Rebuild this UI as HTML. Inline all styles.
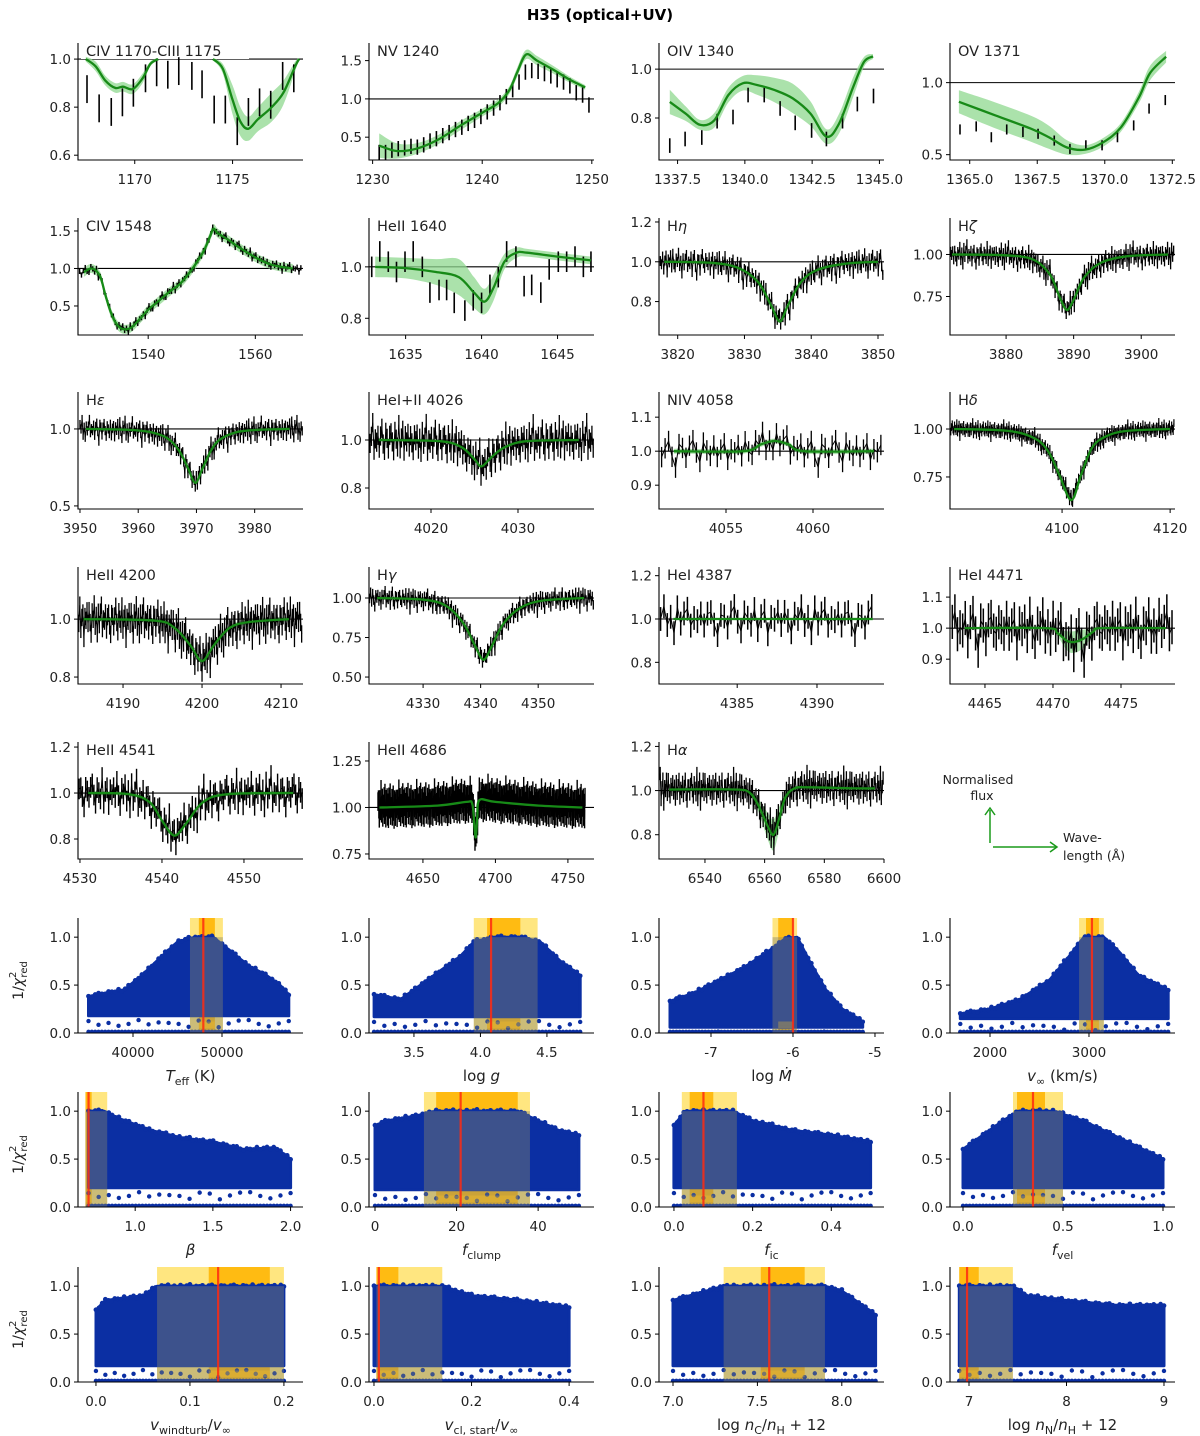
<!DOCTYPE html>
<html><head><meta charset="utf-8">
<style>
html,body{margin:0;padding:0;background:#fff;}
svg{display:block;font-family:"DejaVu Sans","Liberation Sans",sans-serif;}
</style></head>
<body>
<svg id="fig" width="1200" height="1436" viewBox="0 0 1200 1436" xmlns="http://www.w3.org/2000/svg">
<rect width="1200" height="1436" fill="#fff"/>
<text x="600" y="20" text-anchor="middle" font-size="15" font-weight="bold">H35 (optical+UV)</text>
<g id="legend">
<text x="978" y="784" text-anchor="middle" font-size="12.5" fill="#222">Normalised</text>
<text x="982" y="800" text-anchor="middle" font-size="12.5" fill="#222">flux</text>
<line x1="990" y1="843" x2="990" y2="810" stroke="#1a9a1a" stroke-width="1.5"/>
<polyline points="985,815 990,808 995,815" fill="none" stroke="#1a9a1a" stroke-width="1.5"/>
<line x1="993" y1="847" x2="1056" y2="847" stroke="#1a9a1a" stroke-width="1.5"/>
<polyline points="1050,842 1057,847 1050,852" fill="none" stroke="#1a9a1a" stroke-width="1.5"/>
<text x="1063" y="842" font-size="12.5" fill="#222">Wave-</text>
<text x="1063" y="860" font-size="12.5" fill="#222">length (Å)</text>
</g>
</svg>
<script>
// ===== shared noise pattern (hand-read residual shapes) =====
const resid=[0.3,-0.8,0.5,1.1,-0.2,-1.0,0.7,0.1,-0.5,1.3,-0.9,0.2,0.9,-1.4,0.4,-0.1,0.8,-0.6,1.0,-0.3,-1.1,0.6,0.0,1.2,-0.7,0.3,-1.2,0.9,-0.4,0.5,1.5,-0.8,0.1,-0.2,0.7,-1.0,0.4,1.1,-0.5,-1.6,0.6];

// ===== spectral panels: model points [x,y], band half-width =====
const civ1170A=[[1167.5,1.0],[1168.0,0.97],[1168.5,0.91],[1169.0,0.88],[1169.4,0.885],[1169.9,0.875],[1170.4,0.92],[1170.8,0.98],[1171.2,1.0]];
const civ1170Aband=[0.01,0.02,0.02,0.02,0.02,0.02,0.02,0.01,0.005];
const civ1170B=[[1174.0,1.0],[1174.5,0.96],[1175.0,0.83],[1175.4,0.74],[1175.8,0.71],[1176.3,0.75],[1177.0,0.80],[1177.6,0.86],[1178.2,0.97],[1178.4,1.0]];
const civ1170Bband=[0.005,0.02,0.06,0.06,0.05,0.05,0.06,0.05,0.02,0.005];
const civ1170Obs=[[1167.56,0.875],[1168.18,0.795],[1168.8,0.78],[1169.37,0.82],[1169.93,0.86],[1170.55,0.92],[1171.12,0.945],[1171.69,0.935],[1172.25,0.95],[1172.92,0.93],[1173.44,0.895],[1174.06,0.79],[1174.63,0.79],[1175.24,0.70],[1175.81,0.78],[1176.38,0.82],[1176.95,0.81],[1177.56,0.93],[1178.13,0.92]];

const nvModel=[[1230.6,0.39],[1232.2,0.32],[1234,0.35],[1236,0.47],[1238,0.65],[1240,0.82],[1241.5,0.95],[1242.5,1.12],[1243.2,1.35],[1244,1.58],[1245,1.50],[1246.5,1.38],[1248,1.25],[1249.4,1.15]];
const nvBand=[0.16,0.1,0.07,0.06,0.06,0.05,0.05,0.05,0.06,0.06,0.06,0.05,0.04,0.03];
const nvObsY=[0.3,0.3,0.33,0.35,0.36,0.38,0.37,0.4,0.45,0.48,0.52,0.56,0.6,0.63,0.68,0.72,0.77,0.83,0.88,0.95,1.03,1.12,1.22,1.35,1.37,1.36,1.33,1.3,1.25,1.22,1.17,1.08,1.05,0.92];

const oivModel=[[1337.21,0.866],[1337.8,0.818],[1338.33,0.772],[1338.86,0.79],[1339.39,0.894],[1339.92,0.942],[1340.45,0.935],[1341.11,0.914],[1341.78,0.88],[1342.44,0.818],[1343.03,0.724],[1343.5,0.777],[1344.03,0.928],[1344.43,1.03],[1344.76,1.052]];
const oivBand=[0.05,0.03,0.02,0.03,0.03,0.03,0.04,0.05,0.06,0.05,0.03,0.04,0.04,0.02,0.01];
const oivObs=[[1337.21,0.687],[1337.78,0.714],[1338.4,0.72],[1338.97,0.787],[1339.56,0.804],[1340.12,0.894],[1340.72,0.894],[1341.31,0.839],[1341.87,0.78],[1342.48,0.749],[1343.03,0.714],[1343.63,0.787],[1344.18,0.857],[1344.78,0.89]];

const ovModel=[[1364.6,0.867],[1365.94,0.773],[1367.27,0.68],[1367.94,0.62],[1368.6,0.55],[1369.27,0.535],[1369.94,0.586],[1370.6,0.69],[1371.27,0.9],[1371.67,1.065],[1372.27,1.18]];
const ovBand=[0.08,0.09,0.09,0.08,0.05,0.03,0.03,0.03,0.04,0.05,0.04];
const ovObs=[[1364.64,0.675],[1365.24,0.696],[1365.8,0.621],[1366.37,0.675],[1366.97,0.657],[1367.53,0.645],[1368.13,0.598],[1368.71,0.54],[1369.3,0.565],[1369.9,0.565],[1370.47,0.621],[1371.07,0.703],[1371.64,0.82],[1372.24,0.879]];

const civ1548Model=[[1528,0.95],[1529.5,1.0],[1531,0.9],[1532,0.65],[1533,0.42],[1534,0.27],[1535,0.2],[1536,0.19],[1537,0.22],[1538.5,0.33],[1540,0.45],[1542,0.57],[1544,0.69],[1546,0.8],[1548,0.97],[1549.5,1.13],[1550.5,1.25],[1551.5,1.42],[1552.2,1.53],[1553,1.47],[1555,1.38],[1557,1.28],[1559,1.19],[1561,1.11],[1563,1.05],[1565,1.02],[1567,1.0]];

const heii1640Model=[[1633,1.0],[1635,0.995],[1637,0.98],[1638.5,0.96],[1639.5,0.90],[1640.2,0.865],[1640.8,0.92],[1641.5,1.02],[1642.3,1.055],[1643,1.055],[1645,1.04],[1647.2,1.025]];
const heii1640Band=[0.04,0.04,0.05,0.07,0.06,0.05,0.05,0.03,0.02,0.015,0.015,0.015];
const heii1640Obs=[[1632.77,1.0],[1633.3,1.06],[1633.86,1.02],[1634.4,0.98],[1634.96,1.02],[1635.5,1.06],[1636.1,1.0],[1636.6,0.9],[1637.2,0.91],[1637.7,0.91],[1638.2,0.86],[1638.9,0.83],[1639.45,0.87],[1640.0,0.86],[1640.55,0.93],[1641.1,0.96],[1641.65,1.06],[1642.26,1.04],[1642.8,0.925],[1643.3,0.93],[1643.9,0.9],[1644.45,0.99],[1645.05,1.02],[1645.6,1.02],[1646.15,1.04],[1646.7,1.0],[1647.2,1.02]];

const hetaModel=[[3818,1.0],[3825,0.995],[3829,0.97],[3832,0.9],[3834,0.78],[3835.3,0.70],[3836.5,0.78],[3838.5,0.9],[3841,0.96],[3845,0.99],[3850,1.0]];
const hzetaModel=[[3872,1.0],[3880,0.995],[3884,0.97],[3886.5,0.88],[3888,0.74],[3889,0.67],[3890,0.73],[3891.5,0.86],[3894,0.95],[3898,0.99],[3904,1.0]];
const hepsModel=[[3951,1.0],[3958,0.995],[3962,0.98],[3965,0.94],[3967,0.86],[3968.5,0.75],[3969.8,0.65],[3971,0.74],[3972.5,0.86],[3974,0.93],[3977,0.98],[3981,0.995],[3986,1.0]];
const he4026Model=[[4014,1.0],[4021,0.995],[4023.5,0.97],[4025,0.92],[4025.8,0.89],[4027,0.93],[4028.5,0.97],[4031,0.995],[4037,1.0]];
const niv4058Model=[[4052,1.0],[4056,1.0],[4057,1.02],[4057.8,1.03],[4058.6,1.02],[4059.5,1.0],[4063.5,1.0]];
const hdeltaModel=[[4080,1.0],[4090,0.99],[4095,0.95],[4097.5,0.88],[4099.5,0.76],[4101.7,0.63],[4103.5,0.76],[4105.5,0.9],[4108,0.96],[4112,0.99],[4120,1.0]];
const heii4200Model=[[4185,1.0],[4194,0.995],[4196.5,0.97],[4198.5,0.91],[4200,0.855],[4201.5,0.91],[4203.5,0.97],[4206,0.99],[4211,1.0]];
const hgammaModel=[[4322,1.0],[4330,0.99],[4334,0.95],[4337,0.84],[4339,0.7],[4340.5,0.61],[4342,0.7],[4344,0.84],[4347,0.94],[4351,0.985],[4358,1.0]];
const hei4387Model=[[4381,1.0],[4393.5,1.0]];
const hei4471Model=[[4463.5,1.0],[4469.5,1.0],[4470.3,0.985],[4471,0.96],[4471.5,0.955],[4472.2,0.965],[4473,0.99],[4473.6,1.0],[4478.3,1.0]];
const hei4471Band=[0.003,0.003,0.01,0.03,0.035,0.03,0.01,0.003,0.003];
const heii4541Model=[[4531,1.0],[4536,0.995],[4538.5,0.96],[4540,0.88],[4541.5,0.815],[4543,0.87],[4545,0.96],[4548,0.995],[4556,1.0]];
const heii4686Model=[[4620,1.0],[4660,1.01],[4680,1.03],[4684,1.02],[4685.5,0.90],[4686.5,0.84],[4687.5,0.95],[4689,1.04],[4700,1.03],[4730,1.01],[4760,1.0]];
const heii4686Band=[0.005,0.01,0.02,0.02,0.02,0.02,0.02,0.02,0.015,0.01,0.005];
const halphaModel=[[6528,1.005],[6550,1.005],[6555,0.99],[6558,0.93],[6561,0.84],[6563,0.80],[6565,0.88],[6567,0.97],[6570,1.01],[6575,1.015],[6590,1.01],[6597,1.01]];
const halphaBand=[0.003,0.003,0.01,0.03,0.06,0.07,0.05,0.02,0.01,0.005,0.005,0.005];

// ===== chi^2 panels: parameter grid, upper envelope =====
const teffX=[35000,37000,39000,41000,43000,45000,47000,49000,51000,53000,55000,56500,57500];
const teffTop=[0.38,0.42,0.45,0.6,0.78,0.95,1.0,1.0,0.85,0.7,0.6,0.5,0.4];
const loggX=[3.2,3.4,3.55,3.7,3.85,3.95,4.1,4.3,4.45,4.6,4.75];
const loggTop=[0.4,0.35,0.5,0.65,0.8,0.95,1.0,1.0,0.95,0.75,0.6];
const mdotX=[-7.5,-7.2,-6.9,-6.6,-6.3,-6.1,-5.95,-5.8,-5.6,-5.4,-5.15];
const mdotTop=[0.33,0.42,0.55,0.68,0.85,0.98,1.0,0.75,0.45,0.25,0.12];
const vinfX=[1700,2000,2300,2600,2800,2950,3150,3300,3500,3800];
const vinfTop=[0.2,0.25,0.35,0.55,0.8,1.0,1.0,0.85,0.6,0.45];
const betaX=[0.7,0.8,0.9,1.1,1.3,1.5,1.7,1.9,2.0];
const betaTop=[1.0,1.0,0.92,0.8,0.72,0.68,0.6,0.62,0.5];
const fclX=[0,3,10,15,35,40,45,50];
const fclTop=[0.85,0.9,0.95,1.0,1.0,0.9,0.8,0.75];
const ficX=[0,0.03,0.15,0.2,0.3,0.4,0.5];
const ficTop=[0.85,1.0,1.0,0.9,0.8,0.75,0.68];
const fvelX=[0,0.1,0.2,0.28,0.45,0.6,0.8,0.9,1.0];
const fvelTop=[0.6,0.75,0.9,1.0,1.0,0.9,0.7,0.6,0.5];
const vturbX=[0,0.01,0.05,0.065,0.2];
const vturbTop=[0.75,0.85,0.9,1.0,1.0];
const vclX=[0,0.14,0.2,0.3,0.4];
const vclTop=[1.0,1.0,0.9,0.85,0.78];
const ncX=[7.0,7.2,7.3,7.9,8.0,8.2];
const ncTop=[0.85,0.95,1.0,1.0,0.95,0.7];
const nnX=[6.9,7.45,7.6,8.0,8.5,9.0];
const nnTop=[1.0,1.0,0.9,0.85,0.8,0.8];
// best-fit bands: [light lo, light hi, orange lo, orange hi, best]
const teffFit=[46400,50100,47400,49200,47900];
const loggFit=[3.95,4.43,4.05,4.3,4.08];
const mdotFit=[-6.25,-5.95,-6.18,-6.0,-6.0];
const vinfFit=[2900,3150,2970,3100,3030];
const betaFit=[0.68,0.82,0.68,0.72,0.7];
const fclFit=[12,38,15,35,21];
const ficFit=[0.02,0.16,0.04,0.10,0.075];
const fvelFit=[0.25,0.5,0.27,0.41,0.35];
const vturbFit=[0.065,0.2,0.12,0.185,0.13];
const vclFit=[0.005,0.14,0.005,0.05,0.01];
const ncFit=[7.3,7.9,7.52,7.78,7.57];
const nnFit=[6.9,7.45,6.9,7.1,6.98];

// ===== tick labels =====
const ticksCiv1170=[1170,1175], yticksCiv1170=[0.6,0.8,1.0];

const NS='http://www.w3.org/2000/svg';
const svg=document.getElementById('fig');
function el(tag,attrs,parent){const e=document.createElementNS(NS,tag);for(const k in attrs)e.setAttribute(k,attrs[k]);(parent||svg).appendChild(e);return e;}
function interp(pts,x){if(x<=pts[0][0])return pts[0][1];for(let i=1;i<pts.length;i++){if(x<=pts[i][0]){const t=(x-pts[i-1][0])/(pts[i][0]-pts[i-1][0]);return pts[i-1][1]+t*(pts[i][1]-pts[i-1][1]);}}return pts[pts.length-1][1];}
function smooth(p){let d='M'+p[0][0].toFixed(1)+','+p[0][1].toFixed(1);for(let i=0;i<p.length-1;i++){const p0=p[i-1]||p[i],p1=p[i],p2=p[i+1],p3=p[i+2]||p2;const c1=[p1[0]+(p2[0]-p0[0])/6,p1[1]+(p2[1]-p0[1])/6],c2=[p2[0]-(p3[0]-p1[0])/6,p2[1]-(p3[1]-p1[1])/6];d+='C'+c1.map(v=>v.toFixed(1))+' '+c2.map(v=>v.toFixed(1))+' '+p2[0].toFixed(1)+','+p2[1].toFixed(1);}return d;}
function fmt(v,dec){return dec==null?String(v):v.toFixed(dec);}

function axes(g,L,T,W,H,xl,yl,xt,yt,xdec,ydec){
  const sx=x=>L+(x-xl[0])/(xl[1]-xl[0])*W, sy=y=>T+H-(y-yl[0])/(yl[1]-yl[0])*H;
  const cid='c'+Math.round(L)+'_'+Math.round(T);
  const cp=el('clipPath',{id:cid},g);el('rect',{x:L,y:T-2,width:W,height:H+2},cp);
  const inner=el('g',{'clip-path':'url(#'+cid+')'},g);
  return {sx,sy,inner,finish(){
    const sp=el('path',{d:`M${L},${T}V${T+H}H${L+W}`,fill:'none',stroke:'#000','stroke-width':1.1},g);
    
    
    xt.forEach(v=>{const x=sx(v);el('line',{x1:x,y1:T+H,x2:x,y2:T+H+4,stroke:'#000'},g);
      const t=el('text',{x:x,y:T+H+24,'text-anchor':'middle','font-size':13.5,fill:'#222'},g);t.textContent=fmt(v,xdec);
      
      });
    yt.forEach(v=>{const y=sy(v);el('line',{x1:L-4,y1:y,x2:L,y2:y,stroke:'#000'},g);
      const t=el('text',{x:L-7,y:y+5,'text-anchor':'end','font-size':13.5,fill:'#222'},g);t.textContent=fmt(v,ydec);
      
      });
  }};
}

const COLS=[78,369,659,950], W=225;
const SROWS=[43,218,392,567,742], SH=117;
let off=0;
function spec(p){
  const L=COLS[p.c],T=SROWS[p.r];
  const g=el('g',{});
  
  
  const a=axes(g,L,T,W,SH,p.xl,p.yl,p.xt,p.yt,p.xdec,p.ydec);
  const sx=a.sx,sy=a.sy;
  el('line',{x1:L,x2:L+W,y1:sy(1),y2:sy(1),stroke:'#000','stroke-width':1.1},a.inner);
  if(p.bg){el('rect',{x:L+3,y:T,width:p.bg,height:16,fill:'#fff'},g);}
  (p.models).forEach(m=>{
    const up=m.pts.map((q,i)=>[sx(q[0]),sy(q[1]+(m.band?m.band[i]:m.bw))]);
    const lo=m.pts.map((q,i)=>[sx(q[0]),sy(q[1]-(m.band?m.band[i]:m.bw))]).reverse();
    const bd=smooth(up)+'L'+lo[0][0].toFixed(1)+','+lo[0][1].toFixed(1)+smooth(lo).slice(1).replace(/^[^C]*/,'')+'Z';
    const b=el('path',{d:bd,fill:'#8fd88f','fill-opacity':0.75,stroke:'none'},g);
    
    
  });
  const og=el('g',{stroke:'#000','stroke-width':p.sw||1.6},g);
  
  
  if(p.obs){p.obs.forEach(o=>{el('line',{x1:sx(o[0]),x2:sx(o[0]),y1:sy(o[1]-p.err),y2:sy(o[1]+p.err)},og);});}
  else{
    const base=p.models[0].pts;let pts=[];let i=0;
    for(let x=p.d[0];x<=p.d[1];x+=p.d[2]){const y=interp(base,x)+p.noise*resid[(i+off)%resid.length]*(1+0.3*resid[(i*3+off)%resid.length]);
      pts.push([sx(x),sy(y)]);el('line',{x1:sx(x),x2:sx(x),y1:sy(y-p.err),y2:sy(y+p.err)},og);i++;}
    off+=7;
    el('polyline',{points:pts.map(q=>q[0].toFixed(1)+','+q[1].toFixed(1)).join(' '),fill:'none','stroke-width':1},og);
  }
  p.models.forEach(m=>{const ln=el('path',{d:smooth(m.pts.map(q=>[sx(q[0]),sy(q[1])])),fill:'none',stroke:'#178a17','stroke-width':2.3},g);
    
    });
  const lab=el('text',{x:L+8,y:T+13,'font-size':14.5,fill:'#222'},g);
  lab.innerHTML=p.label;
  
  
  a.finish();
}

const nvObs=nvObsY.map((y,i)=>[1230.6+i*0.58,y]);
const P=[
 {id:'civ1170',r:0,c:0,xl:[1167.1,1178.6],yl:[0.58,1.067],xt:ticksCiv1170,yt:yticksCiv1170,ydec:1,label:'CIV 1170-CIII 1175',bg:168,
  models:[{pts:civ1170A,band:civ1170Aband},{pts:civ1170B,band:civ1170Bband}],obs:civ1170Obs,err:0.058},
 {id:'nv1240',r:0,c:1,xl:[1229.67,1250.2],yl:[0.202,1.73],xt:[1230,1240,1250],yt:[0.5,1.0,1.5],ydec:1,label:'NV 1240',
  models:[{pts:nvModel,band:nvBand}],obs:nvObs,err:0.1},
 {id:'oiv1340',r:0,c:2,xl:[1336.81,1345.17],yl:[0.628,1.107],xt:[1337.5,1340,1342.5,1345],xdec:1,yt:[0.8,1.0],ydec:1,label:'OIV 1340',
  models:[{pts:oivModel,band:oivBand}],obs:oivObs,err:0.03},
 {id:'ov1371',r:0,c:3,xl:[1364.27,1372.6],yl:[0.463,1.275],xt:[1365,1367.5,1370,1372.5],xdec:1,yt:[0.5,1.0],ydec:1,label:'OV 1371',
  models:[{pts:ovModel,band:ovBand}],obs:ovObs,err:0.035},
 {id:'civ1548',r:1,c:0,xl:[1526.9,1568.9],yl:[0.113,1.673],xt:[1540,1560],yt:[0.5,1.0,1.5],ydec:1,label:'CIV 1548',
  models:[{pts:civ1548Model,bw:0.06}],d:[1527.2,1568.6,0.35],noise:0.035,err:0.035,sw:1.4},
 {id:'heii1640',r:1,c:1,xl:[1632.59,1647.4],yl:[0.735,1.19],xt:[1635,1640,1645],yt:[0.8,1.0],ydec:1,label:'HeII 1640',
  models:[{pts:heii1640Model,band:heii1640Band}],obs:heii1640Obs,err:0.04},
 {id:'heta',r:1,c:2,xl:[3817.2,3850.9],yl:[0.632,1.22],xt:[3820,3830,3840,3850],yt:[0.8,1.0,1.2],ydec:1,label:'H<tspan font-style="italic">η</tspan>',
  models:[{pts:hetaModel,bw:0.008}],d:[3817.4,3850.8,0.17],noise:0.035,err:0.025,sw:1.3},
 {id:'hzeta',r:1,c:3,xl:[3871.7,3905],yl:[0.521,1.217],xt:[3880,3890,3900],yt:[0.75,1.0],ydec:2,label:'H<tspan font-style="italic">ζ</tspan>',
  models:[{pts:hzetaModel,bw:0.008}],d:[3871.8,3904.9,0.15],noise:0.035,err:0.03,sw:1.3},
 {id:'heps',r:2,c:0,xl:[3949.66,3988.3],yl:[0.48,1.24],xt:[3950,3960,3970,3980],yt:[0.5,1.0],ydec:1,label:'H<tspan font-style="italic">ε</tspan>',
  models:[{pts:hepsModel,bw:0.01}],d:[3950,3988.2,0.18],noise:0.04,err:0.03,sw:1.3},
 {id:'he4026',r:2,c:1,xl:[4012.87,4038.74],yl:[0.7125,1.2],xt:[4020,4030],yt:[0.8,1.0],ydec:1,label:'HeI+II 4026',
  models:[{pts:he4026Model,bw:0.006}],d:[4013,4038.7,0.15],noise:0.04,err:0.04,sw:1.3},
 {id:'niv4058',r:2,c:2,xl:[4051.15,4064.08],yl:[0.83,1.174],xt:[4055,4060],yt:[0.9,1.0,1.1],ydec:1,label:'NIV 4058',
  models:[{pts:niv4058Model,bw:0.007}],d:[4051.3,4064,0.2],noise:0.025,err:0.03,sw:1.3},
 {id:'hdelta',r:2,c:3,xl:[4079.26,4120.9],yl:[0.583,1.193],xt:[4100,4120],yt:[0.75,1.0],ydec:2,label:'H<tspan font-style="italic">δ</tspan>',
  models:[{pts:hdeltaModel,bw:0.01}],d:[4079.4,4120.8,0.14],noise:0.022,err:0.02,sw:1.2},
 {id:'heii4200',r:3,c:0,xl:[4184.3,4212.78],yl:[0.776,1.18],xt:[4190,4200,4210],yt:[0.8,1.0],ydec:1,label:'HeII 4200',
  models:[{pts:heii4200Model,bw:0.008}],d:[4184.4,4212.7,0.13],noise:0.035,err:0.03,sw:1.3},
 {id:'hgamma',r:3,c:1,xl:[4320.6,4359.7],yl:[0.456,1.196],xt:[4330,4340,4350],yt:[0.5,0.75,1.0],ydec:2,label:'H<tspan font-style="italic">γ</tspan>',
  models:[{pts:hgammaModel,bw:0.01}],d:[4320.7,4359.6,0.18],noise:0.035,err:0.03,sw:1.3},
 {id:'hei4387',r:3,c:2,xl:[4380.1,4394.2],yl:[0.70,1.24],xt:[4385,4390],yt:[0.8,1.0,1.2],ydec:1,label:'HeI 4387',
  models:[{pts:hei4387Model,bw:0.005}],d:[4380.2,4393.6,0.21],noise:0.045,err:0.055,sw:1.5},
 {id:'hei4471',r:3,c:3,xl:[4462.43,4478.97],yl:[0.82,1.197],xt:[4465,4470,4475],yt:[0.9,1.0,1.1],ydec:1,label:'HeI 4471',
  models:[{pts:hei4471Model,band:hei4471Band}],d:[4462.6,4478.9,0.19],noise:0.035,err:0.055,sw:1.5},
 {id:'heii4541',r:4,c:0,xl:[4529.76,4557.2],yl:[0.713,1.222],xt:[4530,4540,4550],yt:[0.8,1.0,1.2],ydec:1,label:'HeII 4541',
  models:[{pts:heii4541Model,bw:0.008}],d:[4529.9,4557.1,0.2],noise:0.04,err:0.045,sw:1.4},
 {id:'heii4686',r:4,c:1,xl:[4612.8,4768],yl:[0.723,1.352],xt:[4650,4700,4750],yt:[0.75,1.0,1.25],ydec:2,label:'HeII 4686',
  models:[{pts:heii4686Model,band:heii4686Band}],d:[4619,4762,0.3],noise:0.055,err:0.05,sw:1.4},
 {id:'halpha',r:4,c:2,xl:[6524.6,6600],yl:[0.69,1.22],xt:[6540,6560,6580,6600],yt:[0.8,1.0,1.2],ydec:1,label:'H<tspan font-style="italic">α</tspan>',
  models:[{pts:halphaModel,band:halphaBand}],d:[6525,6599.8,0.3],noise:0.04,err:0.03,sw:1.3}
];
P.forEach(spec);

// ===== chi-square panels =====
const CROWS=[918,1092,1267], CH=115;
function chi(p){
  const L=COLS[p.c],T=CROWS[p.r];
  const g=el('g',{});
  
  
  const a=axes(g,L,T,W,CH,p.xl,[0,1.2],p.xt,[0,0.5,1.0],p.xdec,1);
  const sx=a.sx,sy=a.sy,f=p.fit;
  el('rect',{x:sx(f[0]),y:T,width:sx(f[1])-sx(f[0]),height:CH,fill:'#ffe680'},a.inner);
  el('rect',{x:sx(f[2]),y:T,width:sx(f[3])-sx(f[2]),height:CH,fill:'#ffbb12'},a.inner);
  const low=p.low;
  const top=p.xs.map((x,i)=>[sx(x),sy(p.top[i])]);
  const bot=p.xs.map(x=>[sx(x),sy(low)]).reverse();
  const cloud=el('polygon',{points:top.concat(bot).map(q=>q[0].toFixed(1)+','+q[1].toFixed(1)).join(' '),fill:'#0b2fa3',stroke:'#0b2fa3','stroke-width':3,'stroke-linejoin':'round'},a.inner);
  
  
  const dg=el('g',{fill:'#0b2fa3'},a.inner);
  const x0=p.xs[0],x1=p.xs[p.xs.length-1];
  for(let i=0;i<=60;i++){const x=x0+(x1-x0)*i/60;
    el('circle',{cx:sx(x),cy:sy(0.012),r:2.2},dg);
    if(i%3==0){el('circle',{cx:sx(x),cy:sy(low-0.04-0.05*Math.abs(resid[i%resid.length])),r:2.2},dg);}
    el('circle',{cx:sx(x),cy:sy(interp(p.xs.map((v,j)=>[v,p.top[j]]),x)+0.012*resid[i%resid.length]),r:2.4},dg);}
  el('rect',{x:sx(f[0]),y:sy(1.0),width:sx(f[1])-sx(f[0]),height:sy(0)-sy(1.0),fill:'rgba(130,130,110,0.42)'},a.inner);
  el('rect',{x:sx(f[2]),y:sy(0.12),width:sx(f[3])-sx(f[2]),height:sy(0.05)-sy(0.12),fill:'rgba(255,200,40,0.3)'},a.inner);
  const best=el('line',{x1:sx(f[4]),x2:sx(f[4]),y1:T,y2:T+CH,stroke:'#ff2a10','stroke-width':2.2,'stroke-opacity':0.85},a.inner);
  
  
  a.finish();
  const xl=el('text',{x:L+W/2,y:T+CH+48,'text-anchor':'middle','font-size':15,fill:'#222'},g);
  xl.innerHTML=p.label;
  
  
  if(p.c==0){const yl=el('text',{x:0,y:0,'text-anchor':'middle','font-size':14,fill:'#222',transform:`translate(23,${T+CH/2+5}) rotate(-90)`},g);
    yl.innerHTML='1/<tspan font-style="italic">χ</tspan><tspan dy="-7" font-size="10">2</tspan><tspan dy="11" dx="-6" font-size="10">red</tspan>';
    
    }
}
const sub=(t)=>`<tspan dy="4" font-size="11">${t}</tspan><tspan dy="-4"> </tspan>`;
const C=[
 {id:'teff',r:0,c:0,xl:[33820,59100],xt:[40000,50000],xs:teffX,top:teffTop,low:0.18,fit:teffFit,label:'<tspan font-style="italic">T</tspan>'+sub('eff')+'(K)'},
 {id:'logg',r:0,c:1,xl:[3.162,4.854],xt:[3.5,4.0,4.5],xdec:1,xs:loggX,top:loggTop,low:0.17,fit:loggFit,label:'log <tspan font-style="italic">g</tspan>'},
 {id:'mdot',r:0,c:2,xl:[-7.634,-4.89],xt:[-7,-6,-5],xs:mdotX,top:mdotTop,low:0.06,fit:mdotFit,label:'log <tspan font-style="italic">Ṁ</tspan>'},
 {id:'vinf',r:0,c:3,xl:[1596,3869],xt:[2000,3000],xs:vinfX,top:vinfTop,low:0.15,fit:vinfFit,label:'<tspan font-style="italic">v</tspan>'+sub('∞')+'(km/s)'},
 {id:'beta',r:1,c:0,xl:[0.632,2.08],xt:[1.0,1.5,2.0],xdec:1,xs:betaX,top:betaTop,low:0.2,fit:betaFit,label:'<tspan font-style="italic">β</tspan>'},
 {id:'fclump',r:1,c:1,xl:[-1.47,53.7],xt:[0,20,40],xs:fclX,top:fclTop,low:0.18,fit:fclFit,label:'<tspan font-style="italic">f</tspan>'+sub('clump')},
 {id:'fic',r:1,c:2,xl:[-0.038,0.534],xt:[0,0.2,0.4],xdec:1,xs:ficX,top:ficTop,low:0.2,fit:ficFit,label:'<tspan font-style="italic">f</tspan>'+sub('ic')},
 {id:'fvel',r:1,c:3,xl:[-0.065,1.06],xt:[0,0.5,1.0],xdec:1,xs:fvelX,top:fvelTop,low:0.2,fit:fvelFit,label:'<tspan font-style="italic">f</tspan>'+sub('vel')},
 {id:'vturb',r:2,c:0,xl:[-0.0191,0.2203],xt:[0,0.1,0.2],xdec:1,xs:vturbX,top:vturbTop,low:0.17,fit:vturbFit,label:'<tspan font-style="italic">v</tspan><tspan dy="4" font-size="11">windturb</tspan><tspan dy="-4">/</tspan><tspan font-style="italic">v</tspan><tspan dy="4" font-size="11">∞</tspan>'},
 {id:'vcl',r:2,c:1,xl:[-0.0102,0.451],xt:[0,0.2,0.4],xdec:1,xs:vclX,top:vclTop,low:0.17,fit:vclFit,label:'<tspan font-style="italic">v</tspan><tspan dy="4" font-size="11">cl, start</tspan><tspan dy="-4">/</tspan><tspan font-style="italic">v</tspan><tspan dy="4" font-size="11">∞</tspan>'},
 {id:'nc',r:2,c:2,xl:[6.917,8.25],xt:[7.0,7.5,8.0],xdec:1,xs:ncX,top:ncTop,low:0.17,fit:ncFit,label:'log <tspan font-style="italic">n</tspan><tspan dy="4" font-size="11">C</tspan><tspan dy="-4">/</tspan><tspan font-style="italic">n</tspan><tspan dy="4" font-size="11">H</tspan><tspan dy="-4"> + 12</tspan>'},
 {id:'nn',r:2,c:3,xl:[6.805,9.113],xt:[7,8,9],xs:nnX,top:nnTop,low:0.17,fit:nnFit,label:'log <tspan font-style="italic">n</tspan><tspan dy="4" font-size="11">N</tspan><tspan dy="-4">/</tspan><tspan font-style="italic">n</tspan><tspan dy="4" font-size="11">H</tspan><tspan dy="-4"> + 12</tspan>'}
];
C.forEach(chi);
</script>
</body></html>
